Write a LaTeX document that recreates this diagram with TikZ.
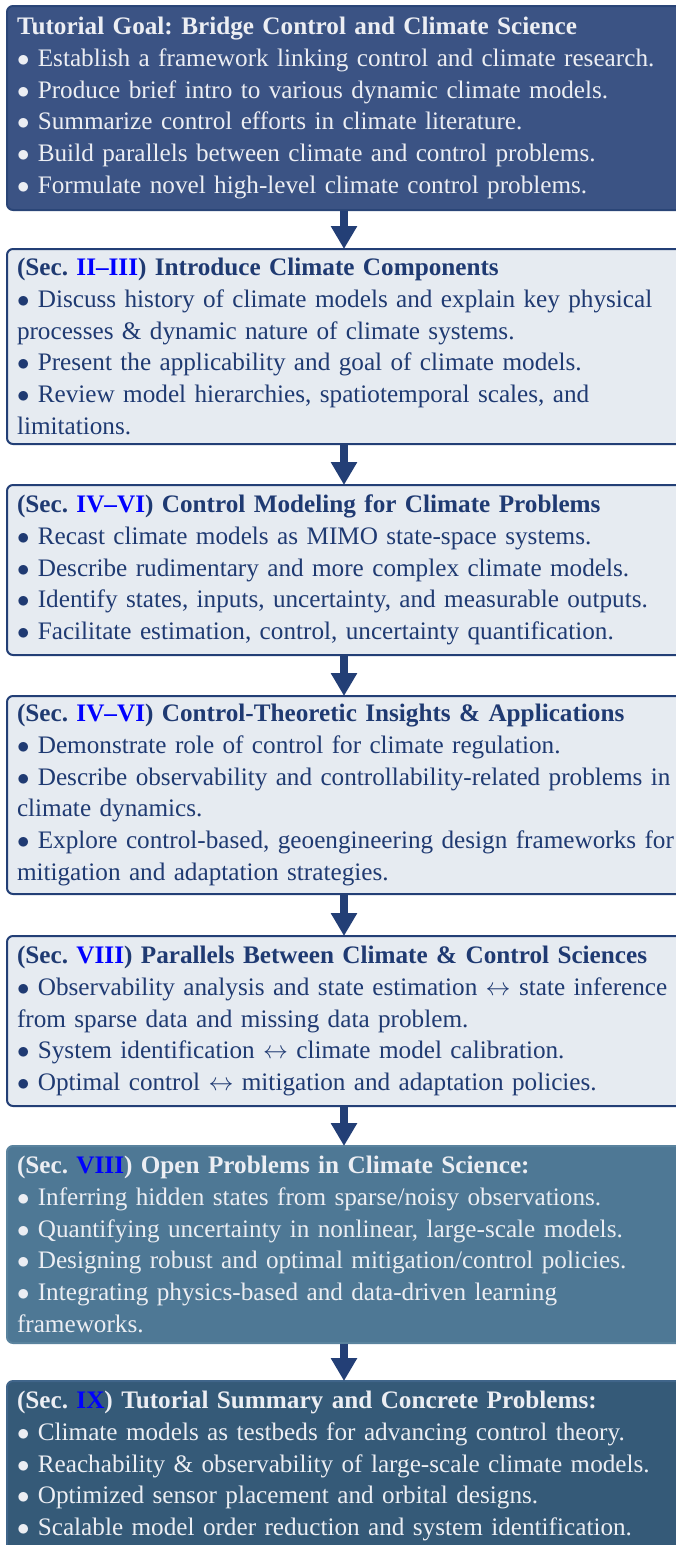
\documentclass[tikz,border=0pt]{standalone}
\usepackage{fontspec}
\setmainfont{Liberation Serif}
\usetikzlibrary{arrows.meta}
\definecolor{darkbox}{HTML}{3B5384}
\definecolor{darkedge}{HTML}{2A4577}
\definecolor{lightbox}{HTML}{E6EBF1}
\definecolor{navy}{HTML}{233F76}
\definecolor{navytext}{HTML}{1F3A72}
\definecolor{midbox}{HTML}{4E7895}
\definecolor{midedge}{HTML}{5A839E}
\definecolor{deepbox}{HTML}{355A78}
\definecolor{deepedge}{HTML}{40658A}
\definecolor{paletext}{HTML}{ECEEF3}
\definecolor{linkblue}{HTML}{0000FF}
\newcommand{\secref}[1]{\textcolor{linkblue}{#1}}
\newcommand{\bul}{$\bullet$ }
\frenchspacing
\begin{document}
\begin{tikzpicture}[x=1pt,y=-1pt,
  box/.style={rectangle, rounded corners=6pt, line width=2pt, anchor=north west,
    inner xsep=7pt, inner ysep=0pt, text width=680pt, align=left,
    minimum width=700pt, font=\fontsize{25.2}{31.8}\selectfont},
  lightstyle/.style={box, fill=lightbox, draw=navy, text=navytext},
  topstyle/.style={box, fill=darkbox, draw=darkedge, text=paletext},
  openstyle/.style={box, fill=midbox, draw=midedge, text=paletext},
  sumstyle/.style={box, fill=deepbox, draw=deepedge, text=paletext},
  arr/.style={line width=8pt, draw=navy, -{Triangle[width=25pt,length=23pt]}, shorten >=-1pt}
]
\clip (0,0) rectangle (676,1545);
\useasboundingbox (0,0) rectangle (676,1545);
\coordinate (ax) at (344,0);

\node[topstyle, minimum height=204pt] (b1) at (6,5) {%
\textbf{Tutorial Goal: Bridge Control and Climate Science}\\
\bul Establish a framework linking control and climate research.\\
\bul Produce brief intro to various dynamic climate models.\\
\bul Summarize control efforts in climate literature.\\
\bul Build parallels between climate and control problems.\\
\bul Formulate novel high-level climate control problems.};

\node[lightstyle, minimum height=195pt] (b2) at (6,248) {%
\textbf{(Sec. \secref{II--III}) Introduce Climate Components}\\
\bul Discuss history of climate models and explain key physical\\
processes \& dynamic nature of climate systems.\\
\bul Present the applicability and goal of climate models.\\
\bul Review model hierarchies, spatiotemporal scales, and\\
limitations.};

\node[lightstyle, minimum height=170pt] (b3) at (6,484) {%
\textbf{(Sec. \secref{IV--VI}) Control Modeling for Climate Problems}\\
\bul Recast climate models as MIMO state-space systems.\\
\bul Describe rudimentary and more complex climate models.\\
\bul Identify states, inputs, uncertainty, and measurable outputs.\\
\bul Facilitate estimation, control, uncertainty quantification.};

\node[lightstyle, minimum height=198pt] (b4) at (6,695) {%
\textbf{(Sec. \secref{IV--VI}) Control-Theoretic Insights \& Applications}\\
\bul Demonstrate role of control for climate regulation.\\
\bul Describe observability and controllability-related problems in\\
climate dynamics.\\
\bul Explore control-based, geoengineering design frameworks for\\
mitigation and adaptation strategies.};

\node[lightstyle, minimum height=170pt] (b5) at (6,935) {%
\textbf{(Sec. \secref{VIII}) Parallels Between Climate \& Control Sciences}\\
\bul Observability analysis and state estimation $\leftrightarrow$ state inference\\
from sparse data and missing data problem.\\
\bul System identification $\leftrightarrow$ climate model calibration.\\
\bul Optimal control $\leftrightarrow$ mitigation and adaptation policies.};

\node[openstyle, minimum height=197pt] (b6) at (6,1145) {%
\textbf{(Sec. \secref{VIII}) Open Problems in Climate Science:}\\
\bul Inferring hidden states from sparse/noisy observations.\\
\bul Quantifying uncertainty in nonlinear, large-scale models.\\
\bul Designing robust and optimal mitigation/control policies.\\
\bul Integrating physics-based and data-driven learning\\
frameworks.};

\node[sumstyle, minimum height=170pt] (b7) at (6,1380) {%
\textbf{(Sec. \secref{IX}) Tutorial Summary and Concrete Problems:}\\
\bul Climate models as testbeds for advancing control theory.\\
\bul Reachability \& observability of large-scale climate models.\\
\bul Optimized sensor placement and orbital designs.\\
\bul Scalable model order reduction and system identification.};

\draw[arr] (b1.south -| ax) -- (b2.north -| ax);
\draw[arr] (b2.south -| ax) -- (b3.north -| ax);
\draw[arr] (b3.south -| ax) -- (b4.north -| ax);
\draw[arr] (b4.south -| ax) -- (b5.north -| ax);
\draw[arr] (b5.south -| ax) -- (b6.north -| ax);
\draw[arr] (b6.south -| ax) -- (b7.north -| ax);
\end{tikzpicture}
\end{document}
